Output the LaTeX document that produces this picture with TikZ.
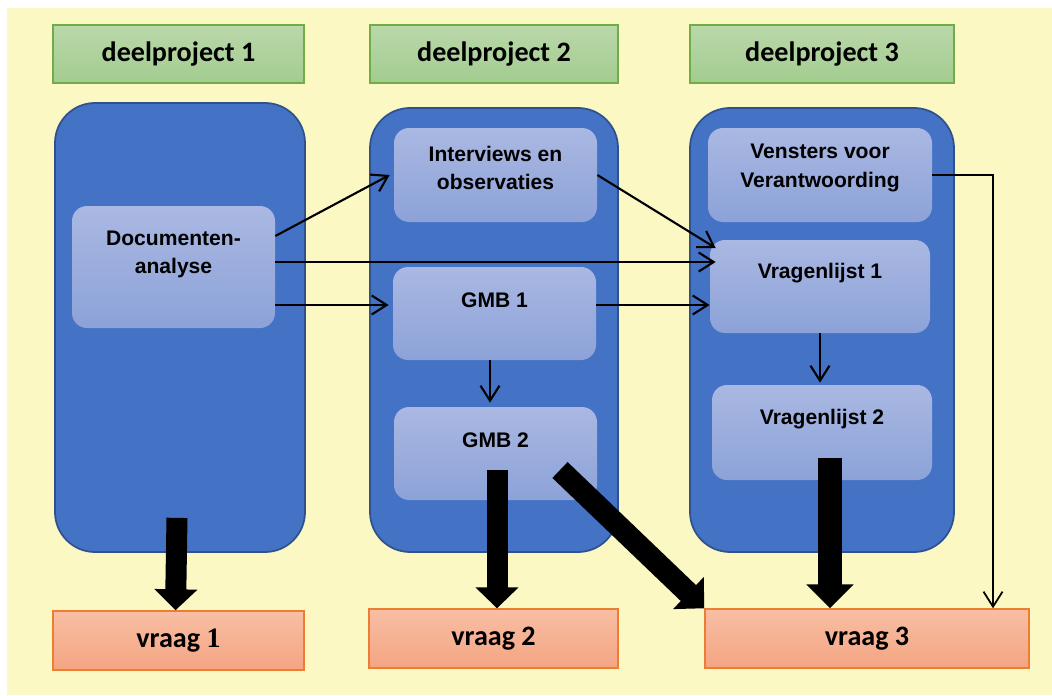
\documentclass[tikz,border=0pt]{standalone}
\usepackage{fontspec}
\setmainfont{Liberation Sans}
\newfontfamily\calibri{Carlito}
\newfontfamily\cambria{Liberation Serif}
\usetikzlibrary{arrows.meta}

\definecolor{geel}{RGB}{251,248,196}
\definecolor{koptop}{RGB}{186,216,170}
\definecolor{kopbot}{RGB}{163,204,143}
\definecolor{koprand}{RGB}{112,173,71}
\definecolor{blokblauw}{RGB}{68,114,196}
\definecolor{blokrand}{RGB}{47,82,143}
\definecolor{vaktop}{RGB}{170,184,226}
\definecolor{vakbot}{RGB}{140,162,216}
\definecolor{vraagtop}{RGB}{248,190,164}
\definecolor{vraagbot}{RGB}{244,165,130}
\definecolor{vraagrand}{RGB}{237,125,49}

\begin{document}
\begin{tikzpicture}[
    kop/.style={draw=koprand, line width=0.8pt, top color=koptop, bottom color=kopbot,
        minimum width=#1, minimum height=1.16cm, font=\calibri\bfseries\fontsize{16}{19}\selectfont},
    vraag/.style={draw=vraagrand, line width=0.8pt, top color=vraagtop, bottom color=vraagbot,
        minimum width=#1, minimum height=1.18cm, font=\calibri\bfseries\fontsize{16}{19}\selectfont},
    blok/.style={draw=blokrand, line width=1pt, fill=blokblauw, rounded corners=0.8cm},
    vak/.style={top color=vaktop, bottom color=vakbot, rounded corners=0.3cm, minimum width=#1},
    tekst/.style={align=center, font=\bfseries\fontsize{12}{16}\selectfont},
    pijl/.style={line width=1.2pt, -{Straight Barb[length=0.3cm,width=0.38cm]}},
    dikpijl/.style={line width=0.42cm, -{Triangle[width=0.84cm,length=0.42cm]}}
]
    \useasboundingbox (0,0) rectangle (21.04,13.9);
    \fill[white] (0,0) rectangle (21.04,13.9);
    \fill[geel] (0.14,0) rectangle (21.04,13.74);

    % deelprojecten
    \node[kop=5.02cm] (k1) at (3.57,12.82) {deelproject 1};
    \node[kop=4.96cm] (k2) at (9.88,12.82) {deelproject 2};
    \node[kop=5.28cm] (k3) at (16.44,12.82) {deelproject 3};

    \node[blok, minimum width=5cm, minimum height=8.98cm] (p1) at (3.6,7.35) {};
    \node[blok, minimum width=4.96cm, minimum height=8.88cm] (p2) at (9.88,7.3) {};
    \node[blok, minimum width=5.28cm, minimum height=8.88cm] (p3) at (16.44,7.3) {};

    % onderdelen
    \node[vak=4.06cm, minimum height=2.44cm] (doc) at (3.47,8.56) {};
    \node[vak=4.06cm, minimum height=1.88cm] (iv) at (9.91,10.4) {};
    \node[vak=4.06cm, minimum height=1.86cm] (gmb1) at (9.89,7.63) {};
    \node[vak=4.06cm, minimum height=1.86cm] (gmb2) at (9.91,4.83) {};
    \node[vak=4.48cm, minimum height=1.88cm] (vv) at (16.4,10.4) {};
    \node[vak=4.4cm, minimum height=1.86cm] (vl1) at (16.4,8.17) {};
    \node[vak=4.4cm, minimum height=1.9cm] (vl2) at (16.44,5.25) {};

    \node[tekst] (tdoc) at ([yshift=0.26cm]doc.center) {Documenten-\\analyse};
    \node[tekst] (tiv) at ([yshift=0.14cm]iv.center) {Interviews en\\observaties};
    \node[tekst] (tgmb1) at ([yshift=0.27cm]gmb1.center) {GMB 1};
    \node[tekst] (tgmb2) at ([yshift=0.27cm]gmb2.center) {GMB 2};
    \node[tekst] (tvv) at ([yshift=0.14cm]vv.center) {Vensters voor\\Verantwoording};
    \node[tekst] (tvl1) at ([yshift=0.26cm]vl1.center) {Vragenlijst 1};
    \node[tekst] (tvl2) at ([yshift=0.26cm]vl2.center) {Vragenlijst 2};

    % onderzoeksvragen
    \node[vraag=5.02cm] (v1) at (3.57,1.09) {vraag {\cambria 1}};
    \node[vraag=4.98cm] (v2) at (9.87,1.13) {vraag 2};
    \node[vraag=6.48cm] (v3) at (17.34,1.13) {vraag 3};

    % dunne pijlen
    \draw[pijl] ([yshift=0.62cm]doc.east) -- ([xshift=-0.08cm]iv.west);
    \draw[pijl] ([yshift=0.1cm]doc.east) -- ([yshift=0.1cm,xshift=0.12cm]doc.east -| vl1.west);
    \draw[pijl] ([yshift=-0.76cm]doc.east) -- ([yshift=-0.76cm,xshift=-0.08cm]doc.east -| gmb1.west);
    \draw[pijl] (iv.east) -- ([yshift=0.77cm,xshift=0.12cm]vl1.west);
    \draw[pijl] ([yshift=0.17cm]gmb1.east) -- ([yshift=0.17cm]gmb1.east -| vl1.west);
    \draw[pijl] ([xshift=-0.09cm]gmb1.south) -- ([xshift=-0.09cm,yshift=0.08cm]gmb1.south |- gmb2.north);
    \draw[pijl] (vl1.south) -- ([yshift=0.04cm]vl1.south |- vl2.north);
    \draw[line width=1pt, -{Straight Barb[length=0.3cm,width=0.38cm]}] (vv.east) -| ([xshift=2.52cm]v3.north);

    % dikke pijlen
    \draw[dikpijl] ([xshift=-0.06cm,yshift=0.7cm]p1.south) -- ([xshift=-0.06cm]v1.north);
    \draw[dikpijl] ([xshift=0.03cm,yshift=-0.33cm]gmb2.center) -- ([xshift=0.03cm]gmb2.center |- v2.north);
    \draw[dikpijl, line width=0.44cm, -{Triangle[width=0.86cm,length=0.44cm]}] ([xshift=1.29cm,yshift=-0.33cm]gmb2.center) -- (v3.north west);
    \draw[dikpijl, line width=0.48cm, -{Triangle[width=0.92cm,length=0.48cm]}] ([xshift=0.16cm,yshift=-0.5cm]vl2.center) -- ([xshift=0.16cm]vl2.center |- v3.north);
\end{tikzpicture}
\end{document}
